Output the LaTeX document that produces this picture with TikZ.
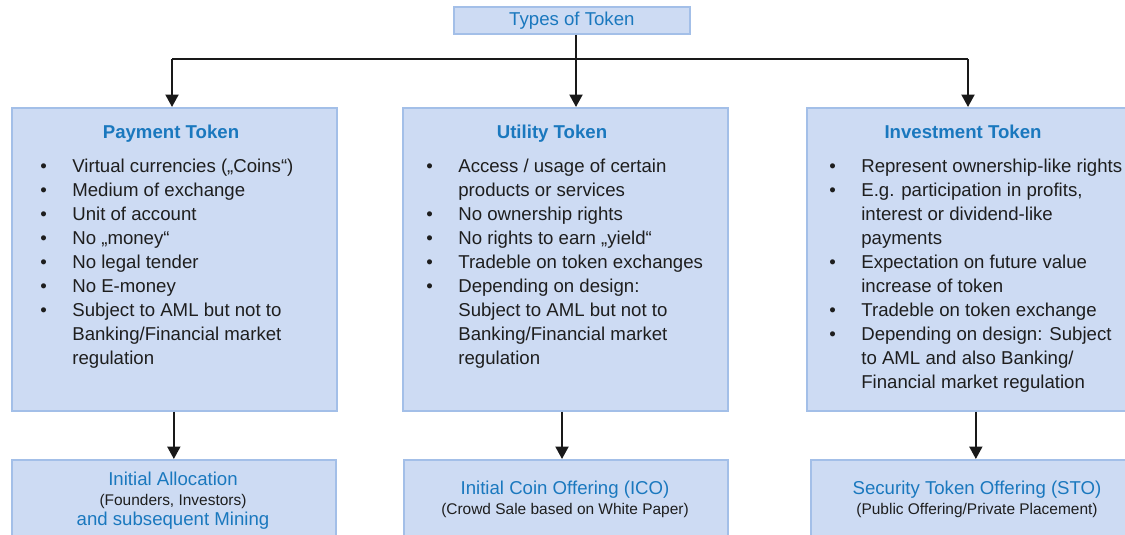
\documentclass[tikz,border=0pt]{standalone}
\usepackage{fontspec}
\setmainfont{Liberation Sans}
\usetikzlibrary{arrows.meta}

\definecolor{tokfill}{HTML}{CDDBF3}
\definecolor{tokline}{HTML}{A3BFE8}
\definecolor{tokblue}{HTML}{1A78BE}
\definecolor{tokgray}{HTML}{1E1E1E}

\newcommand{\bul}{\makebox[0.64cm][l]{\textbullet}}
\newcommand{\ind}{\hspace*{0.64cm}}

\tikzset{
	tokbox/.style={draw=tokline, fill=tokfill, line width=1pt, anchor=north west, inner sep=0pt},
	tokhead/.style={text=tokblue, font=\fontsize{10.6}{13.6}\selectfont\bfseries, anchor=base},
	toklist/.style={text=tokgray, font=\fontsize{10.6}{13.6}\selectfont, align=left, anchor=base west, inner sep=0pt},
	tokoffer/.style={text=tokblue, font=\fontsize{10.6}{11.2}\selectfont, align=center, anchor=base, inner sep=0pt},
	tokarrow/.style={-{Triangle[length=0.25cm,width=0.26cm]}, line width=1.2pt, black!90},
}

\newcommand{\tsmall}[1]{{\fontsize{8.8}{11.2}\selectfont\color{tokgray}#1}}

\begin{document}
\begin{tikzpicture}[x=0.02cm, y=-0.02cm]
	\clip (0,0) rectangle (1125,534);

	\node[tokbox, minimum width=4.72cm, minimum height=0.54cm, text=tokblue, font=\fontsize{10.6}{13.6}\selectfont] (types) at (453,6) {Types of Token};

	\node[tokbox, minimum width=6.5cm, minimum height=6.06cm] (pay) at (11,107) {};
	\node[tokbox, minimum width=6.5cm, minimum height=6.06cm] (util) at (402,107) {};
	\node[tokbox, minimum width=6.76cm, minimum height=6.06cm] (inv) at (806,107) {};

	\node[tokbox, minimum width=6.48cm, minimum height=2cm] (payoff) at (11,459) {};
	\node[tokbox, minimum width=6.48cm, minimum height=2cm] (ico) at (403,459) {};
	\node[tokbox, minimum width=6.6cm, minimum height=2cm] (sto) at (810,459) {};

	% titles
	\node[tokhead] (payhead) at (171,138) {Payment Token};
	\node[tokhead] (utilhead) at (552,138) {Utility Token};
	\node[tokhead] (invhead) at (963,138) {Investment Token};

	% lists (base = last line)
	\node[toklist] (paylist) at (40,364) {%
		\bul Virtual currencies („Coins“)\\
		\bul Medium of exchange\\
		\bul Unit of account\\
		\bul No „money“\\
		\bul No legal tender\\
		\bul No E-money\\
		\bul Subject to AML but not to\\
		\ind Banking/Financial market\\
		\ind regulation};
	\node[toklist] (utillist) at (426,364) {%
		\bul Access / usage of certain\\
		\ind products or services\\
		\bul No ownership rights\\
		\bul No rights to earn „yield“\\
		\bul Tradeble on token exchanges\\
		\bul Depending on design:\\
		\ind Subject to AML but not to\\
		\ind Banking/Financial market\\
		\ind regulation};
	\node[toklist] (invlist) at (829,388) {%
		\bul Represent ownership-like rights\\
		\bul E.g. participation in profits,\\
		\ind interest or dividend-like\\
		\ind payments\\
		\bul Expectation on future value\\
		\ind increase of token\\
		\bul Tradeble on token exchange\\
		\bul Depending on design: Subject\\
		\ind to AML and also Banking/\\
		\ind Financial market regulation};

	% offerings
	\node[tokoffer] (paytext) at (173,525) {Initial Allocation\\\tsmall{(Founders, Investors)}\\and subsequent Mining};
	\node[tokoffer] (icotext) at (565,514) {Initial Coin Offering (ICO)\\\tsmall{(Crowd Sale based on White Paper)}};
	\node[tokoffer] (stotext) at (977,514) {Security Token Offering (STO)\\\tsmall{(Public Offering/Private Placement)}};

	% connectors
	\coordinate (jl) at (172,59);
	\coordinate (jc) at (576,59);
	\coordinate (jr) at (968,59);
	\coordinate (jm) at (562,430);
	\draw[line width=1.2pt, black!90] (jl) -- (jr);
	\draw[tokarrow] (jc |- types.south) -- (jc |- util.north);
	\draw[tokarrow] (jl) -- (jl |- pay.north);
	\draw[tokarrow] (jr) -- (jr |- inv.north);

	\draw[tokarrow] (payoff.north |- pay.south) -- (payoff.north);
	\draw[tokarrow] (jm |- util.south) -- (jm |- ico.north);
	\draw[tokarrow] (sto.north |- inv.south) -- (sto.north);
\end{tikzpicture}
\end{document}
